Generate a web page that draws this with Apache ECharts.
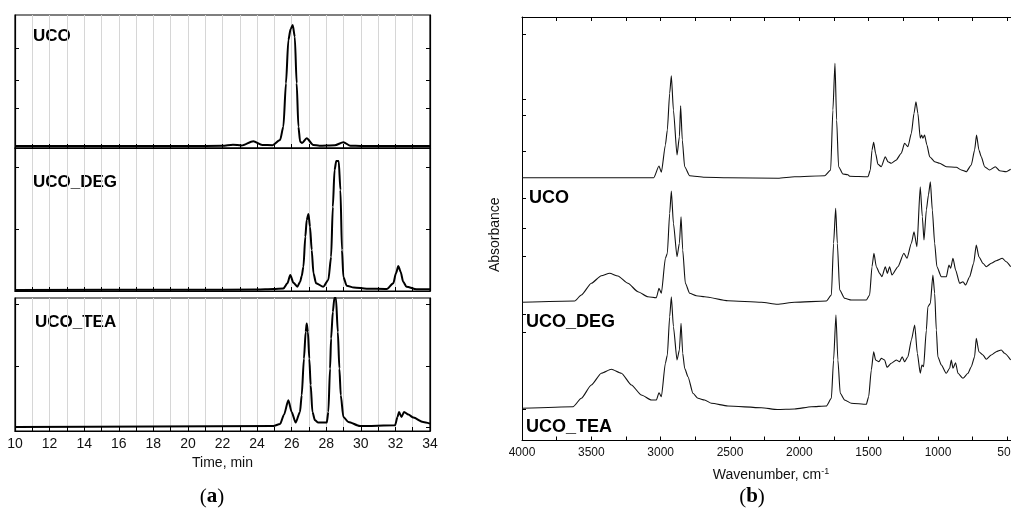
<!DOCTYPE html>
<html lang="en">
<head>
    <meta charset="UTF-8">
    <title>UCO chromatograms and FTIR</title>
    <script src="https://cdn.jsdelivr.net/npm/echarts@6/dist/echarts.min.js"></script>
    <style>
        body { margin: 0; background: #fff; }
    </style>
</head>
<body>
    <div id="main" style="width: 1011px;height: 525px;"></div>
    <script>
        // (a) GPC chromatograms, time in min, signal in a.u.
        var ucoTime = [10, 16, 20, 22, 22.6, 23.1, 23.78, 24.3, 24.9, 25.33, 25.52, 25.67, 25.81, 25.94, 26.06, 26.18, 26.29, 26.39, 26.49, 26.6, 26.87, 27.25, 27.6, 28.5, 28.99, 29.4, 30, 32, 34];
        var ucoSignal = [2, 2, 2, 2.2, 3.3, 2.5, 6.7, 3, 2.8, 8, 21.3, 64.7, 108, 119, 123, 111.3, 64.7, 21.3, 6.3, 5, 9.7, 3, 2.3, 2.8, 5.7, 2.3, 2, 2, 2];

        var degTime = [10, 20, 24, 24.94, 25.52, 25.75, 25.92, 26.1, 26.33, 26.49, 26.58, 26.68, 26.79, 26.87, 26.97, 27.06, 27.16, 27.26, 27.41, 27.83, 28.12, 28.28, 28.38, 28.48, 28.58, 28.72, 28.82, 28.91, 28.99, 29.18, 29.6, 30.34, 31.5, 31.88, 32.03, 32.17, 32.3, 32.45, 32.64, 33.22, 34];
        var degSignal = [1, 1.2, 1.5, 2, 2.5, 7.7, 16, 8.3, 4.3, 9.3, 15, 24.3, 54.3, 71, 77, 64.3, 41, 17.7, 7.7, 4.3, 11, 34, 84, 121, 130, 130, 101, 41, 14, 5.3, 3.5, 2.3, 2, 7.7, 17.7, 25, 19.3, 9.3, 4.3, 1.7, 1.7];

        var teaTime = [10, 18, 24.94, 25.33, 25.55, 25.81, 26, 26.23, 26.48, 26.58, 26.71, 26.81, 26.87, 26.94, 27.02, 27.1, 27.2, 27.35, 27.54, 28.03, 28.12, 28.22, 28.28, 28.38, 28.47, 28.56, 28.67, 28.76, 28.84, 28.99, 29.28, 29.95, 31.98, 32.12, 32.21, 32.35, 32.5, 32.75, 33.04, 33.6, 34];
        var teaSignal = [4, 4.5, 5, 7, 16, 30.7, 19, 8.4, 19, 35.7, 72.3, 99, 107.4, 99, 72.3, 46, 19, 10.7, 8.4, 8.4, 19, 62.4, 92.4, 119, 133, 133, 99, 62.4, 35.7, 14, 9, 5, 5.7, 14, 19, 14, 19, 16.4, 13.4, 9, 7.4];

        var chromNames = ["UCO", "UCO_DEG", "UCO_TEA"];
        var chromMax = [133, 143, 133];
        var chromTicks = [[40, 67.5, 100], [61.7, 123.5], [4, 65, 126.4]];

        // (b) FTIR spectra, wavenumber in cm-1, absorbance relative to own baseline
        var ucoWave = [4000, 3500, 3050, 3012, 2995, 2966, 2952, 2935, 2923, 2908, 2882, 2865, 2856, 2844, 2827, 2791, 2683, 2515, 2154, 2034, 1817, 1774, 1758, 1743, 1731, 1717, 1686, 1650, 1638, 1505, 1488, 1476, 1464, 1450, 1433, 1409, 1380, 1361, 1337, 1301, 1265, 1241, 1217, 1192, 1173, 1159, 1145, 1128, 1118, 1109, 1097, 1080, 1060, 1024, 988, 940, 868, 832, 796, 760, 736, 722, 705, 688, 664, 628, 587, 556, 508, 476];
        var ucoAbs = [0, 0, 0, 0.117, 0.054, 0.327, 0.477, 0.844, 1.02, 0.677, 0.227, 0.41, 0.72, 0.377, 0.11, 0.02, 0.004, 0, -0.006, 0.01, 0.02, 0.077, 0.677, 1.144, 0.577, 0.11, 0.037, 0.03, 0.015, 0.01, 0.077, 0.277, 0.354, 0.244, 0.134, 0.11, 0.21, 0.16, 0.144, 0.177, 0.244, 0.344, 0.31, 0.444, 0.644, 0.76, 0.644, 0.394, 0.427, 0.394, 0.427, 0.327, 0.21, 0.16, 0.144, 0.11, 0.104, 0.077, 0.06, 0.127, 0.277, 0.427, 0.277, 0.21, 0.11, 0.077, 0.11, 0.07, 0.06, 0.084];

        var degWave = [4000, 3620, 3572, 3500, 3428, 3368, 3308, 3236, 3164, 3092, 3031, 3012, 2995, 2966, 2952, 2935, 2923, 2908, 2882, 2865, 2853, 2841, 2822, 2791, 2743, 2683, 2515, 2274, 2159, 2034, 1805, 1769, 1753, 1738, 1726, 1709, 1673, 1625, 1517, 1493, 1476, 1462, 1445, 1421, 1404, 1380, 1365, 1349, 1332, 1289, 1246, 1224, 1192, 1173, 1152, 1128, 1113, 1101, 1084, 1069, 1055, 1041, 1024, 1008, 976, 940, 921, 909, 892, 873, 844, 820, 801, 772, 743, 724, 705, 676, 652, 616, 580, 536, 508, 476];
        var degAbs = [0, 0.013, 0.073, 0.19, 0.266, 0.29, 0.263, 0.19, 0.106, 0.056, 0.046, 0.14, 0.09, 0.44, 0.49, 0.89, 1.113, 0.79, 0.456, 0.59, 0.856, 0.523, 0.19, 0.09, 0.066, 0.056, 0.016, 0, -0.02, 0, 0.013, 0.073, 0.59, 0.94, 0.59, 0.123, 0.04, 0.023, 0.023, 0.073, 0.356, 0.49, 0.356, 0.29, 0.256, 0.356, 0.29, 0.356, 0.273, 0.356, 0.49, 0.44, 0.59, 0.706, 0.556, 1.156, 0.856, 0.623, 0.923, 1.073, 1.206, 0.923, 0.59, 0.356, 0.256, 0.256, 0.373, 0.34, 0.44, 0.323, 0.19, 0.206, 0.173, 0.256, 0.39, 0.573, 0.456, 0.39, 0.356, 0.39, 0.416, 0.44, 0.406, 0.356];

        var teaWave = [4000, 3632, 3572, 3500, 3428, 3356, 3283, 3211, 3139, 3067, 3031, 3012, 2995, 2966, 2952, 2935, 2923, 2908, 2882, 2865, 2853, 2841, 2827, 2803, 2767, 2731, 2683, 2634, 2515, 2274, 2159, 2034, 1913, 1805, 1769, 1753, 1736, 1722, 1705, 1673, 1625, 1517, 1500, 1481, 1464, 1450, 1426, 1409, 1385, 1368, 1337, 1301, 1277, 1258, 1241, 1217, 1192, 1168, 1149, 1128, 1116, 1104, 1084, 1073, 1055, 1037, 1024, 1012, 1001, 976, 940, 916, 904, 892, 873, 856, 820, 784, 760, 736, 724, 705, 676, 652, 616, 580, 544, 520, 476];
        var teaAbs = [0, 0.016, 0.1, 0.233, 0.35, 0.39, 0.35, 0.233, 0.133, 0.083, 0.083, 0.156, 0.116, 0.45, 0.533, 0.916, 1.116, 0.816, 0.483, 0.583, 0.85, 0.55, 0.4, 0.316, 0.15, 0.1, 0.083, 0.05, 0.023, 0.006, -0.012, -0.007, 0.016, 0.023, 0.1, 0.483, 0.933, 0.483, 0.15, 0.083, 0.05, 0.04, 0.116, 0.383, 0.566, 0.483, 0.466, 0.5, 0.483, 0.41, 0.45, 0.483, 0.466, 0.516, 0.466, 0.516, 0.683, 0.833, 0.55, 0.35, 0.433, 0.416, 0.783, 1.016, 1.05, 1.333, 1.15, 0.783, 0.516, 0.433, 0.35, 0.4, 0.483, 0.4, 0.456, 0.35, 0.3, 0.35, 0.416, 0.516, 0.7, 0.566, 0.533, 0.49, 0.533, 0.566, 0.583, 0.55, 0.483];

        var stackOffset = [2.628, 1.382, 0.322];
        var absTicks = [4.065, 3.415, 3.255, 2.895, 2.425, 2.125, 1.845, 1.265, 1.085, 0.315];

        var sans = '"Liberation Sans", Arial, sans-serif';

        function pairs(xs, ys, off) {
            return xs.map(function (x, i) { return [x, ys[i] + (off || 0)]; });
        }

        var myChart = echarts.init(document.getElementById("main"));

        var grids = [
            { left: 15, top: 15, width: 415, height: 133 },
            { left: 15, top: 148, width: 415, height: 143 },
            { left: 15, top: 298, width: 415, height: 133 },
            { left: 522, top: 17, width: 520, height: 423.5 }
        ];
        grids.forEach(function (g, i) {
            g.outerBoundsMode = "none";
            g.containLabel = false;
            if (i < 3) {
                g.show = true;
                g.borderColor = "#000";
                g.borderWidth = 1.2;
            }
        });

        var xAxes = [];
        var yAxes = [];
        var series = [];
        var timeData = [[ucoTime, ucoSignal], [degTime, degSignal], [teaTime, teaSignal]];

        for (var i = 0; i < 3; i++) {
            xAxes.push({
                type: "value",
                gridIndex: i,
                min: 10,
                max: 34,
                interval: 1,
                axisLine: { show: true, lineStyle: { color: "#000", width: 1.2 } },
                axisTick: { show: true, inside: true, length: 4, lineStyle: { color: "#000" } },
                axisLabel: {
                    show: i === 2,
                    margin: 6,
                    color: "#111",
                    fontSize: 14,
                    fontFamily: sans,
                    formatter: function (v) { return v % 2 === 0 ? String(v) : ""; }
                },
                splitLine: { show: true, lineStyle: { color: "#d6d6d6", width: 1 } },
                name: i === 2 ? "Time, min" : "",
                nameLocation: "middle",
                nameGap: 25,
                nameTextStyle: { color: "#111", fontSize: 14, fontFamily: sans }
            });
            ["left", "right"].forEach(function (pos) {
                yAxes.push({
                    type: "value",
                    gridIndex: i,
                    position: pos,
                    min: 0,
                    max: chromMax[i],
                    axisLine: { show: true, lineStyle: { color: "#000", width: 1.2 } },
                    axisTick: { show: true, inside: true, length: 4, customValues: chromTicks[i], lineStyle: { color: "#000" } },
                    axisLabel: { show: false },
                    splitLine: { show: false }
                });
            });
            series.push({
                name: chromNames[i],
                type: "line",
                xAxisIndex: i,
                yAxisIndex: i * 2,
                data: pairs(timeData[i][0], timeData[i][1]),
                showSymbol: false,
                smooth: 0.25,
                smoothMonotone: "x",
                lineStyle: { color: "#000", width: 2 },
                animation: false
            });
        }

        // FTIR panel
        xAxes.push({
            type: "value",
            gridIndex: 3,
            min: 250,
            max: 4000,
            interval: 250,
            inverse: true,
            axisLine: { show: true, lineStyle: { color: "#000" } },
            axisTick: { show: true, inside: true, length: 4, lineStyle: { color: "#000" } },
            axisLabel: {
                margin: 6,
                color: "#111",
                fontSize: 12,
                fontFamily: sans,
                formatter: function (v) { return v % 500 === 0 ? String(v) : ""; }
            },
            splitLine: { show: false },
            name: "{t|Wavenumber, cm}{s|-1}",
            nameLocation: "middle",
            nameGap: 27,
            nameTextStyle: {
                padding: [0, 22, 0, 0],
                rich: {
                    t: { fontSize: 14, color: "#111", fontFamily: sans },
                    s: { fontSize: 9, color: "#111", fontFamily: sans, verticalAlign: "top", padding: [0, 0, 6, 0] }
                }
            }
        });
        xAxes.push({
            type: "value",
            gridIndex: 3,
            position: "top",
            min: 250,
            max: 4000,
            interval: 250,
            inverse: true,
            axisLine: { show: true, lineStyle: { color: "#000" } },
            axisTick: { show: true, inside: true, length: 4, lineStyle: { color: "#000" } },
            axisLabel: { show: false },
            splitLine: { show: false }
        });
        yAxes.push({
            type: "value",
            gridIndex: 3,
            min: 0,
            max: 4.235,
            axisLine: { show: true, lineStyle: { color: "#000" } },
            axisTick: { show: true, inside: true, length: 4, customValues: absTicks, lineStyle: { color: "#000" } },
            axisLabel: { show: false },
            splitLine: { show: false },
            name: "Absorbance",
            nameLocation: "middle",
            nameGap: 20,
            nameTextStyle: { color: "#111", fontSize: 14, fontFamily: sans, padding: [0, 12, 0, 0] }
        });

        var ftirData = [[ucoWave, ucoAbs], [degWave, degAbs], [teaWave, teaAbs]];
        ftirData.forEach(function (d, k) {
            series.push({
                name: chromNames[k] + " FTIR",
                type: "line",
                xAxisIndex: 3,
                yAxisIndex: 6,
                data: pairs(d[0], d[1], stackOffset[k]),
                showSymbol: false,
                smooth: 0.2,
                smoothMonotone: "x",
                lineStyle: { color: "#111", width: 1.1 },
                animation: false
            });
        });

        var labelLeft = [[33, 36], [33, 182], [35, 322]];
        var labelRight = [[529, 198], [526, 322], [526, 427]];
        var graphics = [];
        chromNames.forEach(function (n, k) {
            graphics.push({
                type: "text",
                x: labelLeft[k][0],
                y: labelLeft[k][1],
                style: { text: n, fill: "#000", font: "bold 17px " + sans, verticalAlign: "middle" }
            });
            graphics.push({
                type: "text",
                x: labelRight[k][0],
                y: labelRight[k][1],
                style: { text: n, fill: "#000", font: "bold 18px " + sans, verticalAlign: "middle" }
            });
        });
        [["a", 212], ["b", 752]].forEach(function (p) {
            graphics.push({
                type: "text",
                x: p[1],
                y: 497,
                style: {
                    text: "{p|(}{b|" + p[0] + "}{p|)}",
                    align: "center",
                    verticalAlign: "middle",
                    rich: {
                        p: { fontSize: 21, fontFamily: '"Liberation Serif", serif', fill: "#000" },
                        b: { fontSize: 21, fontWeight: "bold", fontFamily: '"Liberation Serif", serif', fill: "#000" }
                    }
                }
            });
        });

        myChart.setOption({
            animation: false,
            grid: grids,
            xAxis: xAxes,
            yAxis: yAxes,
            series: series,
            graphic: graphics
        });
    </script>
</body>
</html>
